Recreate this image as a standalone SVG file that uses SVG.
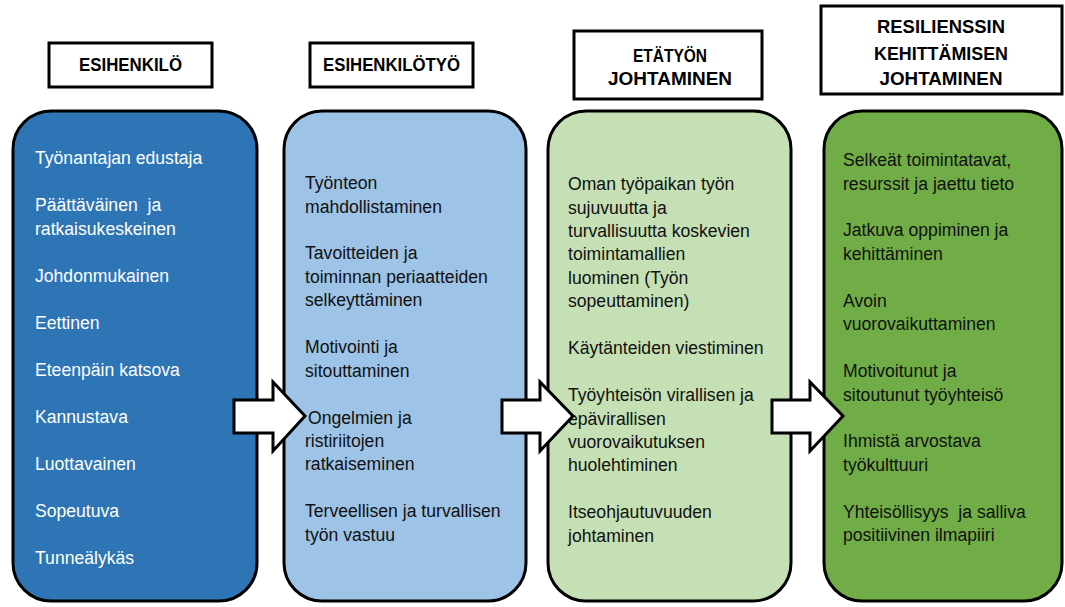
<svg xmlns="http://www.w3.org/2000/svg" width="1065" height="607" viewBox="0 0 1065 607">
<style>
.hdr{fill:#fff;stroke:#000;stroke-width:3}
.ht{font-family:"Liberation Sans",Arial,sans-serif;font-weight:bold;font-size:18px;fill:#000;text-anchor:middle}
.col{stroke:#000;stroke-width:3}
.t{font-family:"Liberation Sans",Arial,sans-serif;font-size:17.6px;white-space:pre}
.w{fill:#fff}
.d{fill:#111}
.arr{fill:#fff;stroke:#000;stroke-width:3;stroke-linejoin:miter}
</style>
<rect width="1065" height="607" fill="#fff"/>
<g id="header-esihenkilo">
<rect class="hdr" x="49" y="43" width="163" height="44"/>
<text class="ht" x="130.5" y="71" textLength="103" lengthAdjust="spacingAndGlyphs">ESIHENKILÖ</text>
</g>
<g id="header-esihenkilotyo">
<rect class="hdr" x="310" y="43" width="163" height="44"/>
<text class="ht" x="391.5" y="71" textLength="137" lengthAdjust="spacingAndGlyphs">ESIHENKILÖTYÖ</text>
</g>
<g id="header-etatyo">
<rect class="hdr" x="574" y="31" width="188" height="68"/>
<text class="ht" x="670" y="62" textLength="74" lengthAdjust="spacingAndGlyphs">ETÄTYÖN</text>
<text class="ht" x="670" y="85" textLength="124" lengthAdjust="spacingAndGlyphs">JOHTAMINEN</text>
</g>
<g id="header-resilienssi">
<rect class="hdr" x="821" y="6" width="241" height="88"/>
<text class="ht" x="941" y="33" textLength="128" lengthAdjust="spacingAndGlyphs">RESILIENSSIN</text>
<text class="ht" x="941" y="60" textLength="134" lengthAdjust="spacingAndGlyphs">KEHITTÄMISEN</text>
<text class="ht" x="941" y="85" textLength="123" lengthAdjust="spacingAndGlyphs">JOHTAMINEN</text>
</g>
<g id="col-esihenkilo">
<rect class="col" x="13" y="111" width="244" height="490" rx="38" fill="#2E75B6"/>
<text class="t w" x="35" y="164">Työnantajan edustaja</text>
<text class="t w" x="35" y="211">Päättäväinen  ja</text>
<text class="t w" x="35" y="234.5">ratkaisukeskeinen</text>
<text class="t w" x="35" y="281.5">Johdonmukainen</text>
<text class="t w" x="35" y="328.5">Eettinen</text>
<text class="t w" x="35" y="375.5">Eteenpäin katsova</text>
<text class="t w" x="35" y="422.5">Kannustava</text>
<text class="t w" x="35" y="469.5">Luottavainen</text>
<text class="t w" x="35" y="516.5">Sopeutuva</text>
<text class="t w" x="35" y="563.5">Tunneälykäs</text>
</g>
<g id="col-esihenkilotyo">
<rect class="col" x="284" y="111" width="242" height="490" rx="38" fill="#9DC3E6"/>
<text class="t d" x="305" y="189">Työnteon</text>
<text class="t d" x="305" y="212.5">mahdollistaminen</text>
<text class="t d" x="305" y="259.4">Tavoitteiden ja</text>
<text class="t d" x="305" y="282.8">toiminnan periaatteiden</text>
<text class="t d" x="305" y="306.3">selkeyttäminen</text>
<text class="t d" x="305" y="353.2">Motivointi ja</text>
<text class="t d" x="305" y="376.6">sitouttaminen</text>
<text class="t d" x="308" y="423.5">Ongelmien ja</text>
<text class="t d" x="305" y="447">ristiriitojen</text>
<text class="t d" x="305" y="470.4">ratkaiseminen</text>
<text class="t d" x="305" y="517.3">Terveellisen ja turvallisen</text>
<text class="t d" x="305" y="540.8">työn vastuu</text>
</g>
<g id="col-etatyo">
<rect class="col" x="548" y="111" width="243" height="490" rx="38" fill="#C5E0B4"/>
<text class="t d" x="568" y="190">Oman työpaikan työn</text>
<text class="t d" x="568" y="213.5">sujuvuutta ja</text>
<text class="t d" x="568" y="237">turvallisuutta koskevien</text>
<text class="t d" x="568" y="260.4">toimintamallien</text>
<text class="t d" x="568" y="283.8">luominen (Työn</text>
<text class="t d" x="568" y="307.3">sopeuttaminen)</text>
<text class="t d" x="568" y="354.2">Käytänteiden viestiminen</text>
<text class="t d" x="568" y="401">Työyhteisön virallisen ja</text>
<text class="t d" x="568" y="424.5">epävirallisen</text>
<text class="t d" x="568" y="448">vuorovaikutuksen</text>
<text class="t d" x="568" y="471.4">huolehtiminen</text>
<text class="t d" x="568" y="518.3">Itseohjautuvuuden</text>
<text class="t d" x="568" y="541.7">johtaminen</text>
</g>
<g id="col-resilienssi">
<rect class="col" x="824" y="111" width="238" height="490" rx="38" fill="#70AD47"/>
<text class="t d" x="843" y="166">Selkeät toimintatavat,</text>
<text class="t d" x="843" y="189.5">resurssit ja jaettu tieto</text>
<text class="t d" x="843" y="236.4">Jatkuva oppiminen ja</text>
<text class="t d" x="843" y="259.8">kehittäminen</text>
<text class="t d" x="843" y="306.7">Avoin</text>
<text class="t d" x="843" y="330.2">vuorovaikuttaminen</text>
<text class="t d" x="843" y="377">Motivoitunut ja</text>
<text class="t d" x="843" y="400.5">sitoutunut työyhteisö</text>
<text class="t d" x="843" y="447.4">Ihmistä arvostava</text>
<text class="t d" x="843" y="470.8">työkulttuuri</text>
<text class="t d" x="843" y="517.7">Yhteisöllisyys  ja salliva</text>
<text class="t d" x="843" y="541.2">positiivinen ilmapiiri</text>
</g>
<g id="connectors">
<path class="arr" d="M234,400 L273,400 L273,382 L305,416 L273,451 L273,433 L234,433 Z"/>
<path class="arr" d="M502,400 L540,400 L540,382 L573,416 L540,451 L540,433 L502,433 Z"/>
<path class="arr" d="M772,400 L810,400 L810,382 L843,416 L810,451 L810,433 L772,433 Z"/>
</g>
</svg>
